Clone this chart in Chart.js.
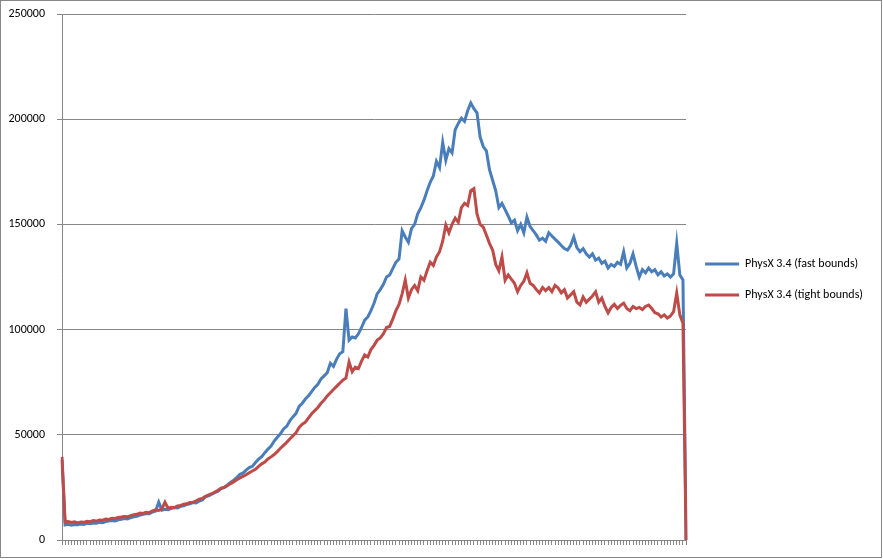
<!DOCTYPE html>
<html>
<head>
<meta charset="utf-8">
<script src="https://cdn.jsdelivr.net/npm/chart.js@4/dist/chart.umd.min.js"></script>
<style>
  body { margin: 0; background: #ffffff; }
  canvas { display: block; }
</style>
</head>
<body>
<canvas id="myChart" width="883" height="559"></canvas>
<script>
// valeurs (en milliers)
var fastBounds = [
  38.0, 7.2, 7.5, 7.0, 7.4, 7.3, 7.6, 7.4, 7.9, 7.7,
  8.1, 8.0, 8.4, 8.2, 8.8, 9.0, 9.3, 9.1, 9.6, 9.9,
  10.2, 10.0, 10.6, 11.0, 11.3, 11.8, 12.2, 12.6, 12.5, 13.3,
  13.8, 18.0, 14.2, 14.6, 14.4, 15.0, 15.4, 15.2, 16.0, 16.3,
  16.9, 17.2, 17.8, 17.6, 18.5, 19.0, 20.6, 21.0, 21.8, 22.5,
  23.2, 24.4, 25.0, 26.2, 27.4, 28.4, 29.6, 31.2, 31.8, 33.2,
  34.4, 35.0, 36.8, 38.4, 39.6, 41.5, 43.2, 44.6, 47.0, 48.8,
  50.5, 52.8, 54.0, 56.6, 58.5, 60.2, 63.5, 65.0, 67.0, 68.6,
  70.5, 72.5, 74.0, 76.5, 78.0, 79.5, 84.0, 82.5, 86.0, 88.5,
  89.5, 110.0, 95.0, 96.5, 96.0, 98.0, 101.0, 104.5, 106.0, 109.0,
  112.5, 117.0, 119.0, 121.5, 125.0, 126.0, 129.0, 132.0, 133.5, 147.0,
  144.0, 141.5, 148.0, 150.0, 155.0, 158.0, 161.5, 166.0, 170.0, 173.0,
  180.0, 177.0, 189.0, 180.5, 186.0, 184.0, 195.0, 198.0, 200.5, 199.0,
  204.0, 207.7, 205.0, 203.0, 191.5, 187.0, 185.0, 176.0, 171.0, 166.0,
  158.0, 160.0, 157.0, 154.0, 150.7, 152.0, 147.0, 150.0, 146.0, 153.5,
  149.0, 147.0, 145.0, 142.5, 143.5, 142.0, 146.0, 144.5, 143.0, 141.6,
  140.0, 138.5, 137.8, 140.0, 144.0, 139.0, 137.0, 138.5, 136.0, 134.5,
  136.0, 133.0, 134.0, 131.5, 132.5, 129.3, 131.0, 130.0, 132.0, 131.0,
  137.0, 129.3, 131.5, 136.0, 130.0, 125.0, 128.5, 127.0, 129.3, 127.5,
  128.5, 126.0, 127.5, 125.5, 126.5, 125.0, 126.5, 141.0, 126.0, 123.6,
  0
];

var tightBounds = [
  39.5, 8.6, 8.8, 8.3, 8.6, 8.1, 8.5, 8.4, 8.9, 8.7,
  9.2, 9.0, 9.5, 9.4, 10.0, 9.8, 10.3, 10.2, 10.7, 10.9,
  11.2, 11.0, 11.6, 12.0, 12.2, 12.8, 12.6, 13.2, 13.0, 13.8,
  14.3, 14.0, 14.8, 18.0, 15.0, 15.6, 15.4, 16.2, 16.4, 17.0,
  17.2, 17.8, 18.0, 18.6, 19.4, 19.8, 20.8, 21.4, 22.0, 22.8,
  23.6, 24.6, 25.0, 25.8, 26.8, 27.6, 28.6, 29.5, 30.2, 31.0,
  32.0, 32.8, 33.6, 35.0, 36.2, 37.0, 38.5, 39.5, 40.6, 42.0,
  43.6, 45.0, 46.4, 48.0, 49.5, 51.0, 53.5, 55.0, 56.0, 58.0,
  60.0, 61.5, 63.0, 65.0, 66.5, 68.5, 70.0, 71.5, 73.0, 74.5,
  76.0, 77.0, 84.6, 80.0, 82.2, 81.5, 85.0, 88.0, 87.0, 90.5,
  92.5, 95.0, 96.0, 98.0, 101.0, 101.5, 105.0, 109.0, 112.0, 117.0,
  123.5, 115.0, 119.0, 121.0, 118.5, 125.0, 123.5, 128.0, 132.0, 130.5,
  134.5, 137.0, 142.0, 149.7, 146.0, 150.0, 153.0, 151.0, 158.0, 160.0,
  159.0, 166.0, 167.0, 155.0, 150.0, 148.7, 145.0, 141.0, 137.8, 131.0,
  128.0, 134.5, 123.5, 126.0, 124.0, 122.0, 118.0, 121.0, 123.0, 127.0,
  122.0, 121.0, 119.0, 117.4, 120.0, 118.5, 120.0, 118.0, 121.0, 119.8,
  117.5, 119.0, 115.0, 116.5, 118.0, 113.0, 111.7, 115.5, 113.0, 114.5,
  116.0, 118.0, 113.0, 115.0, 111.0, 108.0, 110.5, 112.0, 110.0, 111.5,
  112.6, 110.0, 109.0, 111.0, 110.0, 110.5, 109.5, 111.0, 111.7, 110.0,
  108.0, 107.5, 106.0, 107.0, 105.5, 106.5, 108.5, 117.4, 107.0, 103.0,
  0
];

var seriesNames = ["PhysX 3.4 (fast bounds)", "PhysX 3.4 (tight bounds)"];
var seriesColors = ["#4a7ebb", "#be4b48"];
var yTicks = [0, 50000, 100000, 150000, 200000, 250000];

// une categorie par mesure, pas de libelle sur l'axe
var labels = [];
for (let i = 0; i < fastBounds.length; i++) {
    labels.push(String(i + 1));
}

var gridColor = "#868686";
var fontFamily = "Carlito, Lato, 'Open Sans', sans-serif";

// cadre gris autour du graphique, comme dans Excel
const frame = {
    id: 'frame',
    beforeDraw(chart) {
        const ctx = chart.ctx;
        ctx.save();
        ctx.fillStyle = '#ffffff';
        ctx.fillRect(0, 0, chart.width, chart.height);
        ctx.strokeStyle = gridColor;
        ctx.lineWidth = 1;
        ctx.strokeRect(0.5, 0.5, chart.width - 2, chart.height - 2);
        ctx.restore();
    }
};

const ctx = document.getElementById('myChart');
const chart = new Chart(ctx, {
    type: 'line',
    data: {
        labels: labels,
        datasets: [{
            label: seriesNames[0],
            data: fastBounds.map(v => v * 1000),
            borderColor: seriesColors[0],
            backgroundColor: seriesColors[0],
            borderWidth: 3,
            pointRadius: 0,
            tension: 0,
            fill: false,
            order: 1
        }, {
            label: seriesNames[1],
            data: tightBounds.map(v => v * 1000),
            borderColor: seriesColors[1],
            backgroundColor: seriesColors[1],
            borderWidth: 3,
            pointRadius: 0,
            tension: 0,
            fill: false,
            order: 0
        }]
    },
    options: {
        responsive: false,
        animation: false,
        layout: {
            padding: { left: 5, right: 10, top: 14, bottom: 14 }
        },
        plugins: {
            tooltip: { enabled: false },
            legend: {
                position: 'right',
                labels: {
                    usePointStyle: true,
                    pointStyle: 'line',
                    pointStyleWidth: 34,
                    padding: 19,
                    color: '#000000',
                    font: { family: fontFamily, size: 12 },
                    sort: (a, b) => a.datasetIndex - b.datasetIndex
                }
            }
        },
        scales: {
            x: {
                offset: false,
                grid: {
                    drawOnChartArea: false,
                    drawTicks: true,
                    tickLength: 5,
                    color: gridColor
                },
                border: { color: gridColor },
                ticks: { display: false }
            },
            y: {
                min: 0,
                max: 250000,
                afterBuildTicks: (axis) => {
                    axis.ticks = yTicks.map(v => ({ value: v }));
                },
                afterFit: (axis) => {
                    // largeur fixe et pas de marge en haut / en bas
                    axis.width = 57;
                    axis.paddingTop = 0;
                    axis.paddingBottom = 0;
                },
                grid: {
                    color: gridColor,
                    tickLength: 5
                },
                border: { color: gridColor },
                ticks: {
                    padding: 12,
                    color: '#000000',
                    font: { family: fontFamily, size: 12 },
                    callback: (v) => String(v)
                }
            }
        }
    },
    plugins: [frame]
});
</script>
</body>
</html>
